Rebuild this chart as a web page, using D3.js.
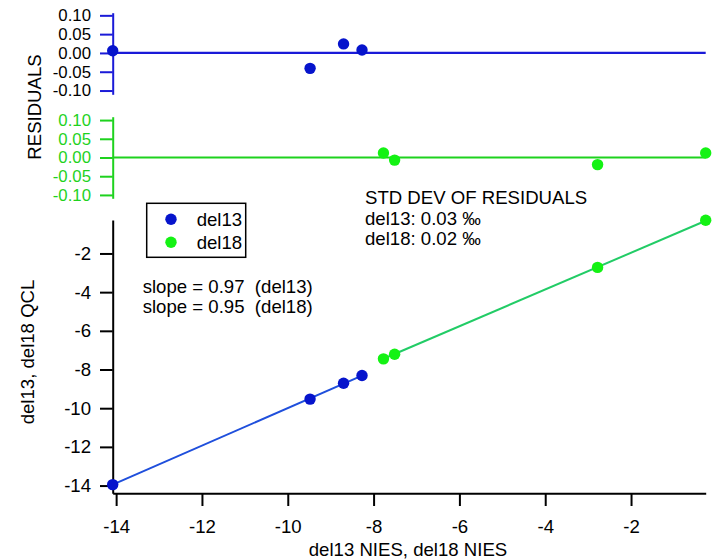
<!DOCTYPE html>
<html>
<head>
<meta charset="utf-8">
<script src="https://cdn.jsdelivr.net/npm/d3@7"></script>
<style>
  html, body { margin: 0; padding: 0; background: #fff; }
  svg { display: block; }
  text { font-family: "Liberation Sans", Arial, sans-serif; }
</style>
</head>
<body>
<svg id="chart" width="713" height="559"></svg>
<script>
// Isotope comparison: QCL vs NIES, with fit residuals per species
const del13NIES = [-14.08, -9.48, -8.70, -8.27];
const del13QCL  = [-13.95, -9.53, -8.71, -8.31];
const del18NIES = [-7.77, -7.51, -2.78, -0.26];
const del18QCL  = [-7.45, -7.21, -2.72, -0.28];

const del13Resid = [0.006, -0.041, 0.024, 0.008];
const del18Resid = [0.012, -0.007, -0.019, 0.012];

const seriesNames = ["del13", "del18"];
const fitSlopes = [0.97, 0.95];
const residStdDev = ["0.03", "0.02"];

const xTicks = [-14, -12, -10, -8, -6, -4, -2];
const yTicks = [-2, -4, -6, -8, -10, -12, -14];
const residTicks = [0.10, 0.05, 0.00, -0.05, -0.10];

const colors = {
  blueMark: "#0614cc", blueAxis: "#1a1ad8", blueFit: "#1f4fdc",
  greenMark: "#14f214", greenAxis: "#1ed21e", greenFit: "#22cc66"
};

const svg = d3.select("#chart");
const FS = 18.6;      // labels and annotations
const FS_RES = 16.8;  // tightly stacked residual tick labels

const x = d3.scaleLinear().domain([-14.08, -0.26]).range([112.7, 705.7]);
const yMain = d3.scaleLinear().domain([-14.4, -0.27]).range([493.3, 220]);
const yRes13 = d3.scaleLinear().domain([-0.11, 0.107]).range([94.3, 12.7]);
const yRes18 = d3.scaleLinear().domain([-0.109, 0.109]).range([198.3, 116.7]);

// plain hyphen-minus labels
const fmtInt = d => String(d);
const fmtRes = d => d.toFixed(2);

function styleAxis(g, stroke, textFill, size) {
  g.selectAll("path.domain").attr("stroke", stroke).attr("stroke-width", 2);
  g.selectAll(".tick line").attr("stroke", stroke).attr("stroke-width", 2);
  g.selectAll(".tick text").attr("fill", textFill)
    .style("font-size", size + "px")
    .style("font-family", "'Liberation Sans', Arial, sans-serif");
}

// ---- residual panels ----
function residPanel(yScale, resid, nies, axisColor, labelColor, markColor) {
  const g = svg.append("g");
  const ax = g.append("g").attr("transform", `translate(${x.range()[0]},0)`)
    .call(d3.axisLeft(yScale).tickValues(residTicks).tickFormat(fmtRes)
      .tickSize(12.7).tickSizeOuter(0).tickPadding(9));
  styleAxis(ax, axisColor, labelColor, FS_RES);
  g.append("line")
    .attr("x1", x.range()[0]).attr("x2", x.range()[1])
    .attr("y1", yScale(0)).attr("y2", yScale(0))
    .attr("stroke", axisColor).attr("stroke-width", 2.2);
  g.selectAll("circle").data(resid).join("circle")
    .attr("cx", (d, i) => x(nies[i]))
    .attr("cy", d => yScale(d))
    .attr("r", 5.7)
    .attr("fill", markColor);
}
residPanel(yRes13, del13Resid, del13NIES, colors.blueAxis, "#000", colors.blueMark);
residPanel(yRes18, del18Resid, del18NIES, colors.greenAxis, colors.greenAxis, colors.greenMark);

svg.append("text")
  .attr("transform", `translate(41,107) rotate(-90)`)
  .attr("text-anchor", "middle")
  .style("font-size", FS + "px")
  .text("RESIDUALS");

// ---- main panel ----
const xAx = svg.append("g").attr("transform", `translate(0,${yMain.range()[0]})`)
  .call(d3.axisBottom(x).tickValues(xTicks).tickFormat(fmtInt)
    .tickSize(12.7).tickSizeOuter(0).tickPadding(13.3));
styleAxis(xAx, "#000", "#000", FS);

const yAx = svg.append("g").attr("transform", `translate(${x.range()[0]},0)`)
  .call(d3.axisLeft(yMain).tickValues(yTicks).tickFormat(fmtInt)
    .tickSize(12.7).tickSizeOuter(0).tickPadding(9));
styleAxis(yAx, "#000", "#000", FS);

// fit lines through each series' centroid with the stated slope
function fitLine(nx, ny, slope, color) {
  const mx = d3.mean(nx), my = d3.mean(ny);
  const [x0, x1] = d3.extent(nx);
  const f = v => my + slope * (v - mx);
  svg.append("line")
    .attr("x1", x(x0)).attr("y1", yMain(f(x0)))
    .attr("x2", x(x1)).attr("y2", yMain(f(x1)))
    .attr("stroke", color).attr("stroke-width", 2);
}
fitLine(del13NIES, del13QCL, fitSlopes[0], colors.blueFit);
fitLine(del18NIES, del18QCL, fitSlopes[1], colors.greenFit);

function points(nx, ny, color) {
  svg.append("g").selectAll("circle").data(ny).join("circle")
    .attr("cx", (d, i) => x(nx[i]))
    .attr("cy", d => yMain(d))
    .attr("r", 5.7)
    .attr("fill", color);
}
points(del13NIES, del13QCL, colors.blueMark);
points(del18NIES, del18QCL, colors.greenMark);

// axis titles
svg.append("text")
  .attr("x", 408).attr("y", 556)
  .attr("text-anchor", "middle")
  .style("font-size", FS + "px")
  .text("del13 NIES, del18 NIES");

svg.append("text")
  .attr("transform", `translate(34,352) rotate(-90)`)
  .attr("text-anchor", "middle")
  .style("font-size", FS + "px")
  .text("del13, del18 QCL");

// legend
const legend = svg.append("g");
legend.append("rect")
  .attr("x", 146.7).attr("y", 203.3).attr("width", 99).attr("height", 54)
  .attr("fill", "#fff").attr("stroke", "#000").attr("stroke-width", 1.5);
const legColors = [colors.blueMark, colors.greenMark];
seriesNames.forEach((name, i) => {
  legend.append("circle").attr("cx", 171).attr("cy", 219.3 + i * 23).attr("r", 5.7)
    .attr("fill", legColors[i]);
  legend.append("text").attr("x", 196.7).attr("y", 226 + i * 22.5)
    .style("font-size", FS + "px").text(name);
});

// slope annotations
seriesNames.forEach((name, i) => {
  svg.append("text").attr("x", 142.7).attr("y", 293.3 + i * 20)
    .attr("xml:space", "preserve").style("white-space", "pre")
    .style("font-size", FS + "px")
    .text(`slope = ${fitSlopes[i].toFixed(2)}  (${name})`);
});

// residual std dev annotation
svg.append("text").attr("x", 365).attr("y", 204)
  .style("font-size", FS + "px").text("STD DEV OF RESIDUALS");
seriesNames.forEach((name, i) => {
  svg.append("text").attr("x", 365).attr("y", 224.5 + i * 20.5)
    .style("font-size", FS + "px").text(`${name}: ${residStdDev[i]} ‰`);
});
</script>
</body>
</html>
